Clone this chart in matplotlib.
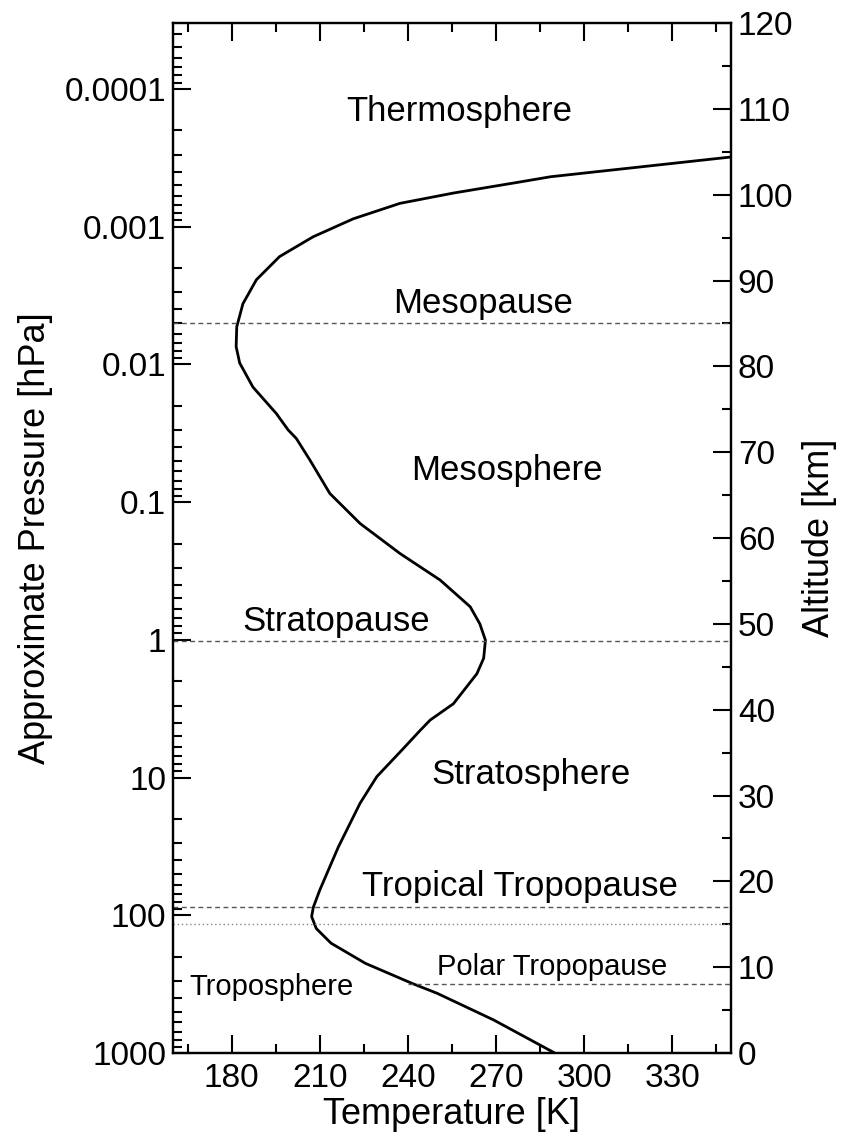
import numpy as np
import matplotlib
matplotlib.use('Agg')
import matplotlib.pyplot as plt
from matplotlib.ticker import FixedLocator, MultipleLocator, FuncFormatter

plt.rcParams['font.family'] = ['Liberation Sans', 'DejaVu Sans']

# temperature profile (altitude km, temperature K)
alt_km = [0, 3.85, 6.95, 8.1, 10.45, 12.8, 14.5, 15.9, 17, 19, 24, 29.1, 32.2,
          35.5, 37.6, 38.8, 40.7, 44.2, 46, 48.1, 50, 52, 55.1, 58.2, 61.7,
          65.2, 69.1, 71.6, 72.6, 74.5, 77.6, 80.4, 82.3, 84.6, 87.3, 90.1,
          92.8, 95.1, 97.2, 99.0, 100.2, 101.5, 102.1, 104.4]
temp_k = [290, 269.2, 250, 241.5, 225.5, 213.8, 208.8, 207.2, 207.8, 210, 216.3,
          223.7, 229.4, 238.5, 244.2, 247.6, 255.5, 263.5, 265.8, 266.4, 264.5,
          261.2, 251, 237.3, 223.7, 213.4, 206.6, 202, 199.2, 195.2, 187.2,
          182.7, 181.5, 181.7, 183.8, 188.4, 196.3, 207.7, 221.4, 237.3, 255.5,
          278.3, 288.6, 350]

# layer boundaries (km)
mesopause = 85
stratopause = 48
trop_tropopause = 17
trop_dotted = 15
polar_tropopause = 8
polar_start_T = 240

# labels: (text, T, alt, size)
labels = [('Thermosphere', 257.5, 108.6, 25),
          ('Mesopause', 265.7, 86.2, 25),
          ('Mesosphere', 273.7, 66.8, 25),
          ('Stratopause', 215.5, 49.2, 25),
          ('Stratosphere', 282.0, 31.4, 25),
          ('Tropical Tropopause', 278.0, 18.3, 25),
          ('Polar Tropopause', 289.0, 9.1, 21),
          ('Troposphere', 193.5, 6.76, 21)]

H = 6.97  # scale height used for the pressure axis
p_ticks = [1000, 100, 10, 1, 0.1, 0.01, 0.001, 0.0001]
p_labels = ['1000', '100', '10', '1', '0.1', '0.01', '0.001', '0.0001']

fig = plt.figure(figsize=(8.44, 11.33), dpi=100)
ax = fig.add_axes([0.205, 0.0706, 0.661, 0.909])
ax2 = ax.twinx()

ax.set_yscale('log')
ax.set_ylim(1000, 1000 * np.exp(-120 / H))
ax.yaxis.set_major_locator(FixedLocator(p_ticks))
ax.yaxis.set_major_formatter(FuncFormatter(lambda v, pos: p_labels[p_ticks.index(v)] if v in p_ticks else ''))
ax.set_xlim(160, 350)
ax.xaxis.set_major_locator(MultipleLocator(30))
ax.xaxis.set_minor_locator(FixedLocator(np.arange(165, 350, 15)))
ax.xaxis.set_major_formatter(FuncFormatter(lambda v, pos: '%d' % v))

ax2.set_ylim(0, 120)
ax2.yaxis.set_major_locator(MultipleLocator(10))
ax2.yaxis.set_minor_locator(MultipleLocator(5))

ax2.plot(temp_k, alt_km, color='black', lw=2.0, solid_joinstyle='round')

dash = (0, (3.5, 2.5))
for a in [mesopause, stratopause, trop_tropopause]:
    ax2.axhline(a, color='#555555', lw=1.0, linestyle=dash)
ax2.axhline(trop_dotted, color='#888888', lw=1.0, linestyle=(0, (1, 2)))
ax2.plot([polar_start_T, 350], [polar_tropopause, polar_tropopause],
         color='#555555', lw=1.0, linestyle=dash)

for txt, t, a, s in labels:
    ax2.text(t, a, txt, fontsize=s, ha='center', va='baseline')

for a in (ax, ax2):
    a.tick_params(which='both', direction='in', width=1.5, labelsize=24)
    a.tick_params(which='major', length=13)
    a.tick_params(which='minor', length=6.5)
    for sp in a.spines.values():
        sp.set_linewidth(1.6)
ax.tick_params(axis='x', which='both', top=True, bottom=True, pad=7)
ax.tick_params(axis='y', which='both', left=True, right=False, pad=5)
ax2.tick_params(axis='y', which='both', right=True, left=False, pad=5)

ax.set_xlabel('Temperature [K]', fontsize=26, labelpad=2)
ax.set_ylabel('Approximate Pressure [hPa]', fontsize=26, labelpad=8)
ax2.set_ylabel('Altitude [km]', fontsize=26, labelpad=6)

fig.savefig('out.png', dpi=100)
